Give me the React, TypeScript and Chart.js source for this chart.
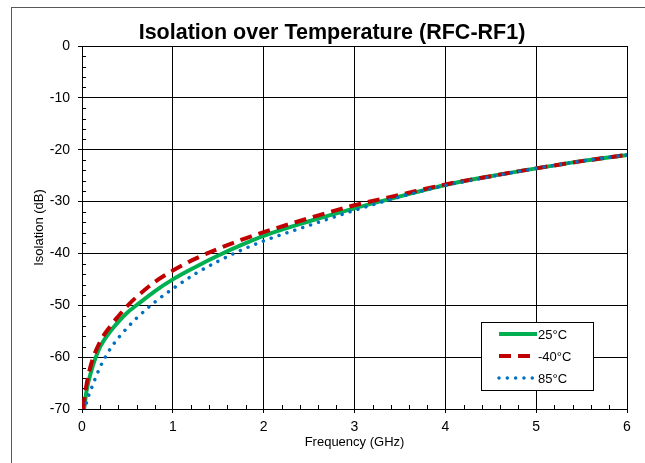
import React, { useEffect, useRef } from 'react';
import { Chart, registerables } from 'chart.js';

Chart.register(...registerables);

const chartTitle = 'Isolation over Temperature (RFC-RF1)';
const xAxisTitle = 'Frequency (GHz)';
const yAxisTitle = 'Isolation (dB)';

const freqGHz = [0.01, 0.05, 0.1, 0.2, 0.3, 0.4, 0.5, 0.6, 0.8, 1.0, 1.25, 1.5, 1.75, 2.0, 2.5, 3.0, 3.5, 4.0, 4.5, 5.0, 5.5, 6.0];
const iso25 = [-71.8, -66.5, -62.8, -58.0, -55.3, -53.2, -51.4, -50.0, -47.3, -45.0, -42.6, -40.4, -38.4, -36.6, -33.8, -31.3, -29.0, -26.8, -25.1, -23.6, -22.2, -21.0];
const isoM40 = [-70.0, -65.3, -61.4, -57.0, -54.3, -52.1, -50.1, -48.4, -45.5, -43.3, -41.0, -39.1, -37.4, -35.9, -33.2, -30.7, -28.7, -26.7, -25.1, -23.6, -22.2, -21.0];
const iso85 = [-72.0, -68.7, -66.2, -61.9, -58.7, -56.3, -54.3, -52.5, -49.4, -46.8, -43.9, -41.5, -39.4, -37.6, -34.6, -31.7, -29.1, -26.9, -25.2, -23.6, -22.2, -21.0];

const seriesLabels = ['25°C', '-40°C', '85°C'];
const xTickValues = [0, 1, 2, 3, 4, 5, 6];
const yTickValues = [0, -10, -20, -30, -40, -50, -60, -70];
const xMinorStep = 0.2;
const yMinorStep = 2;

const FONT = '"Liberation Sans", Arial, sans-serif';

const minorTicksPlugin = {
  id: 'minorTicks',
  beforeDatasetsDraw(chart: any) {
    const { ctx, chartArea } = chart;
    const x = chart.scales.x;
    const y = chart.scales.y;
    ctx.save();
    ctx.strokeStyle = '#000';
    ctx.lineWidth = 1;
    ctx.beginPath();
    const nx = Math.round((x.max - x.min) / xMinorStep);
    for (let i = 1; i < nx; i++) {
      if (i % 5 === 0) continue;
      const px = Math.round(x.getPixelForValue(x.min + i * xMinorStep)) + 0.5;
      ctx.moveTo(px, chartArea.bottom);
      ctx.lineTo(px, chartArea.bottom - 4);
    }
    const ny = Math.round((y.max - y.min) / yMinorStep);
    for (let i = 1; i < ny; i++) {
      if (i % 5 === 0) continue;
      const py = Math.round(y.getPixelForValue(y.min + i * yMinorStep)) + 0.5;
      ctx.moveTo(chartArea.left, py);
      ctx.lineTo(chartArea.left + 4, py);
    }
    ctx.stroke();
    ctx.restore();
  },
};

const headerPlugin = {
  id: 'header',
  afterDraw(chart: any) {
    const { ctx } = chart;
    ctx.save();
    ctx.fillStyle = '#000';
    ctx.font = `bold 21.5px ${FONT}`;
    ctx.textAlign = 'center';
    ctx.textBaseline = 'middle';
    ctx.fillText(chartTitle, 332, 33);
    ctx.restore();
  },
};

const insideLegendPlugin = {
  id: 'insideLegend',
  afterDraw(chart: any) {
    const { ctx, chartArea } = chart;
    const right = chartArea.right - 34;
    const bottom = chartArea.bottom - 19;
    const left = right - 112;
    const top = bottom - 68;
    ctx.save();
    ctx.fillStyle = '#fff';
    ctx.fillRect(left, top, right - left, bottom - top);
    ctx.strokeStyle = '#000';
    ctx.lineWidth = 1;
    ctx.strokeRect(Math.round(left) + 0.5, Math.round(top) + 0.5, right - left, bottom - top);
    chart.data.datasets.forEach((ds: any, i: number) => {
      const yy = top + 12 + i * 22;
      ctx.save();
      ctx.strokeStyle = ds.borderColor;
      ctx.lineWidth = ds.borderWidth;
      ctx.lineCap = ds.borderCapStyle || 'butt';
      ctx.setLineDash(ds.borderDash || []);
      ctx.beginPath();
      ctx.moveTo(left + 18, yy);
      ctx.lineTo(left + 56, yy);
      ctx.stroke();
      ctx.restore();
      ctx.fillStyle = '#000';
      ctx.font = `13px ${FONT}`;
      ctx.textAlign = 'left';
      ctx.textBaseline = 'middle';
      ctx.fillText(ds.label, left + 57, yy + 1);
    });
    ctx.restore();
  },
};

export default function App() {
  const canvasRef = useRef<HTMLCanvasElement | null>(null);

  useEffect(() => {
    if (!canvasRef.current) return;
    const toPts = (vals: number[]) => freqGHz.map((f, i) => ({ x: f, y: vals[i] }));
    const chart = new Chart(canvasRef.current, {
      type: 'line',
      data: {
        datasets: [
          {
            label: seriesLabels[0],
            data: toPts(iso25),
            borderColor: '#00B050',
            borderWidth: 4,
            cubicInterpolationMode: 'monotone',
            pointRadius: 0,
            fill: false,
            order: 2,
          },
          {
            label: seriesLabels[1],
            data: toPts(isoM40),
            borderColor: '#C00000',
            borderWidth: 4,
            borderDash: [12, 7],
            cubicInterpolationMode: 'monotone',
            pointRadius: 0,
            fill: false,
            order: 1,
          },
          {
            label: seriesLabels[2],
            data: toPts(iso85),
            borderColor: '#0070C0',
            borderWidth: 3.5,
            borderDash: [0.01, 8.3],
            borderCapStyle: 'round',
            cubicInterpolationMode: 'monotone',
            pointRadius: 0,
            fill: false,
            order: 0,
          },
        ] as any,
      },
      options: {
        animation: false,
        responsive: false,
        maintainAspectRatio: false,
        layout: { padding: { left: 0, right: 18, top: 46, bottom: 0 } },
        plugins: {
          legend: { display: false },
          title: { display: false },
          tooltip: { enabled: false },
        },
        scales: {
          x: {
            type: 'linear',
            min: 0,
            max: 6,
            afterFit: (s: any) => { s.height = 54; },
            afterBuildTicks: (s: any) => { s.ticks = xTickValues.map((v) => ({ value: v })); },
            grid: { color: '#000', lineWidth: 1, tickLength: 4, drawTicks: true },
            border: { color: '#000', width: 1 },
            ticks: { font: { family: FONT, size: 14 }, color: '#000', padding: 6, maxRotation: 0, callback: (v: any) => String(v) },
            title: { display: true, text: xAxisTitle, color: '#000', font: { family: FONT, size: 13 }, padding: { top: 0, bottom: 13 } },
          },
          y: {
            type: 'linear',
            min: -70,
            max: 0,
            afterFit: (s: any) => { s.width = 82; },
            afterBuildTicks: (s: any) => { s.ticks = yTickValues.map((v) => ({ value: v })); },
            grid: { color: '#000', lineWidth: 1, tickLength: 4, drawTicks: true },
            border: { color: '#000', width: 1 },
            ticks: { font: { family: FONT, size: 14 }, color: '#000', padding: 8, callback: (v: any) => String(v) },
            title: { display: true, text: yAxisTitle, color: '#000', font: { family: FONT, size: 13 }, padding: { top: 32, bottom: 0 } },
          },
        },
      } as any,
      plugins: [minorTicksPlugin, insideLegendPlugin, headerPlugin],
    });
    return () => chart.destroy();
  }, []);

  return (
    <div style={{ position: 'absolute', left: 0, top: 0, width: 645, height: 463, background: '#fff', overflow: 'hidden' }}>
      <div style={{ position: 'absolute', left: 11, top: 7, right: -2, bottom: -2, borderLeft: '1px solid #595959', borderTop: '1px solid #595959' }} />
      <canvas ref={canvasRef} width={645} height={463} style={{ position: 'absolute', left: 0, top: 0, width: 645, height: 463 }} />
    </div>
  );
}
